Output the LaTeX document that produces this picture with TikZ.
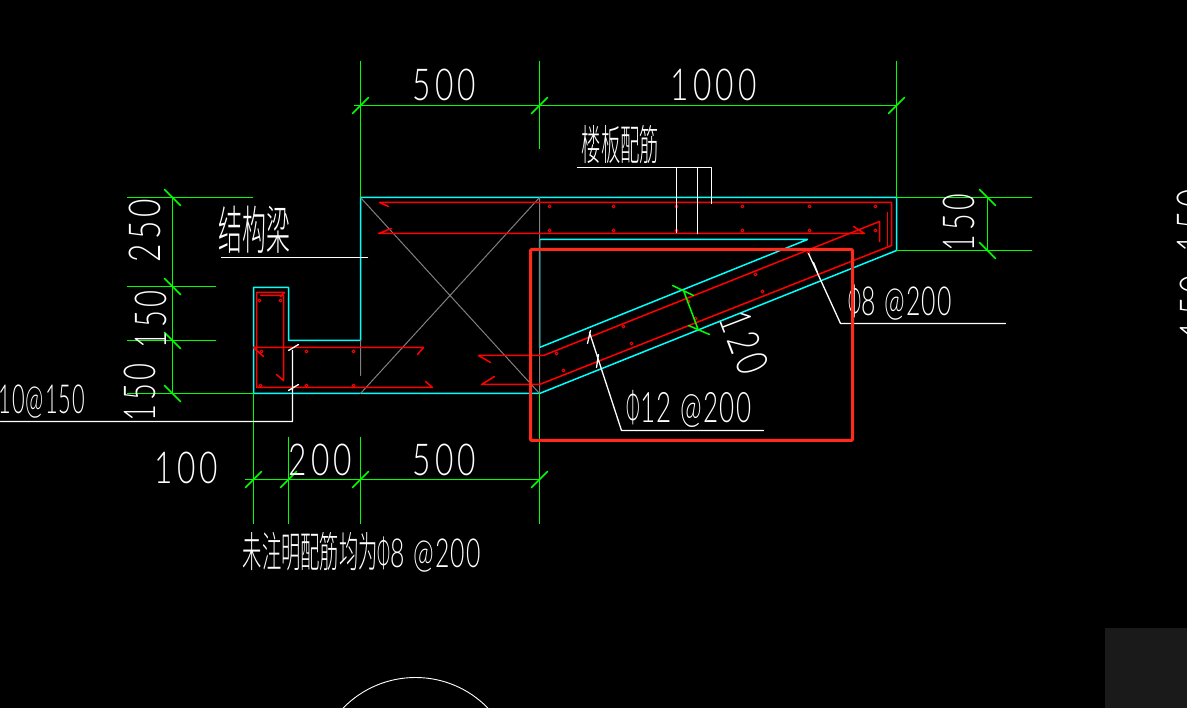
\documentclass[tikz,border=0pt]{standalone}
\usepackage{fontspec}
\newfontfamily\cadfont[LetterSpace=13]{Lato Light}
\newfontfamily\cadtight[LetterSpace=5]{Lato Light}
\newfontfamily\cadcjk{Noto Sans CJK SC Light}
\newcommand{\cadnum}[2][44]{\scalebox{.72}[1]{\fontsize{#1}{#1}\cadfont #2}}
\newcommand{\cadbar}[2][40]{\scalebox{.62}[1]{\fontsize{#1}{#1}\cadtight #2}}
\newcommand{\cadhan}[2][44]{\scalebox{.46}[1]{\fontsize{#1}{#1}\cadcjk #2}}
\newcommand{\cadphi}[1][40]{\scalebox{.4}[1]{\fontsize{#1}{#1}\cadfont Φ}}
\definecolor{cadcyan}{HTML}{00FFFF}
\definecolor{cadgreen}{HTML}{00FF00}
\definecolor{cadred}{HTML}{FF0000}
\definecolor{markred}{HTML}{FF2A1A}
\definecolor{cadgrey}{HTML}{808080}
\definecolor{cornergrey}{HTML}{1A1A1A}
\tikzset{
	outline/.style={cadcyan,line width=1.5pt},
	dimline/.style={cadgreen,line width=1.5pt},
	rebar/.style={cadred,line width=1.5pt},
	leader/.style={white,line width=1.3pt},
	cadlabel/.style={white,inner sep=0pt}
}
\begin{document}
\begin{tikzpicture}[x=1pt,y=-1pt,line join=round,line cap=round]
	\useasboundingbox (0,0) rectangle (1187,708);
	\clip (0,0) rectangle (1187,708);
	\fill[black] (0,0) rectangle (1187,708);
	\fill[cornergrey] (1105,628) rectangle (1187,708);
	\begin{scope}[shift={(.5,.5)}]
	%Section outline
	\draw[outline] (360,197)--(896,197)--(896,250)--(539,393)--(253,393)--(253,287)--(288,287)--(288,340)--(360,340)--cycle;
	\draw[outline] (807,239)--(539,239)--(539,347)--cycle;
	\draw[cadgrey,line width=1pt] (360,197)--(539,393) (360,393)--(539,197)--(539,393) (360,340)--(360,375);
	%Rebars
	\draw[rebar] (388,206)--(379,202)--(891,202)--(891,245)--(539,384)--(481,384)--(494,376);
	\draw[rebar] (391,228)--(378,233)--(864,233)--(853,226);
	\draw[rebar] (490,362)--(478,355)--(543,355)--(879,221)--(879,241);
	\draw[rebar] (887,212)--(887,245);
	\draw[rebar] (263,356)--(253,347)--(423,347)--(417,354);
	\draw[rebar] (425,381)--(432,387)--(256,387)--(256,292)--(284,292)--(280,296);
	\draw[rebar] (260,295)--(283,295)--(283,380)--(276,374);
	\foreach \x in {549,613,676,742,809,875} \draw[cadred,line width=.8pt] (\x,206) circle (1.5) (\x,230) circle (1.5);
	\foreach \x/\y in {623/326,556/353,631/343,563/370,755/274,762/291,808/252,688/301,695/318,259/300,280/300,261/351,306/351,353/351,260/385,306/385,353/385} \draw[cadred,line width=.8pt] (\x,\y) circle (1.5);
	%Dimension lines
	\draw[dimline] (360,61)--(360,197) (539,61)--(539,148) (896,61)--(896,197) (354,105)--(896,105);
	\draw[dimline] (127,197)--(252,197) (127,286)--(215,286) (127,340)--(215,340) (127,393)--(253,393) (172,197)--(172,393);
	\draw[dimline] (896,197)--(1031,197) (896,250)--(1031,250) (987,197)--(987,250);
	\draw[dimline] (253,393)--(253,523) (288,437)--(288,523) (360,437)--(360,523) (539,393)--(539,523) (245,479)--(539,479);
	\foreach \x/\y in {360/105,539/105,896/105,253/479,288/479,360/479,539/479} \draw[dimline] (\x-8,\y+8)--(\x+8,\y-8);
	\foreach \x/\y in {172/197,172/286,172/340,172/393,987/197,987/250} \draw[dimline] (\x-8,\y-8)--(\x+8,\y+8);
	\draw[dimline] (683,290)--(698,330) (672,285)--(693,295) (688,325)--(709,334);
	%Leaders
	\draw[leader] (221,257)--(367,257);
	\draw[leader] (577,167)--(711,167)--(711,203) (676,167)--(676,232) (697,167)--(697,233);
	\draw[leader] (808,253)--(840,323)--(1005,323) (813,262)--(817,272);
	\draw[leader] (589,332)--(621,430)--(763,430) (590,330)--(587,343) (598,354)--(596,367);
	\draw[leader] (292,350)--(292,421)--(0,421) (288,350)--(298,344) (288,390)--(298,384);
	%Texts
	\node[cadlabel] (dimTopA) at (444,84) {\cadnum{500}};
	\node[cadlabel] (dimTopB) at (713,84) {\cadnum{1000}};
	\node[cadlabel] (dimBotA) at (186,467) {\cadnum{100}};
	\node[cadlabel] (dimBotB) at (320,459) {\cadnum{200}};
	\node[cadlabel] (dimBotC) at (444,459) {\cadnum{500}};
	\node[cadlabel,rotate=90] (dimLeftA) at (144,230) {\cadnum{250}};
	\node[cadlabel,rotate=90] (dimLeftB) at (150,319) {\scalebox{.92}[1]{\cadnum{150}}};
	\node[cadlabel,rotate=90] (dimLeftC) at (139,392) {\scalebox{.92}[1]{\cadnum{150}}};
	\node[cadlabel,rotate=90] (dimRight) at (958,222) {\scalebox{.9}[1]{\cadnum{150}}};
	\node[cadlabel,rotate=90] (edgeA) at (1192,220) {\cadnum{150}};
	\node[cadlabel,rotate=90] (edgeB) at (1195,306) {\cadnum{150}};
	\node[cadlabel,rotate=-69] (slabThk) at (744,342) {\cadnum{120}};
	\node[cadlabel,anchor=west] (barTop) at (848,302) {\cadphi\cadbar{8\,\,@200}};
	\node[cadlabel,anchor=west] (barBot) at (626,408) {\cadphi[42]\cadbar[42]{12\,\,@200}};
	\node[cadlabel,anchor=east] (barBeam) at (85,401) {\scalebox{.88}[1]{\cadbar{10@150}}};
	\node[cadlabel] (txtBeam) at (254,229) {\cadhan[52]{结构梁}};
	\node[cadlabel] (txtSlab) at (620,144) {\cadhan[42]{楼板配筋}};
	\node[cadlabel,anchor=west] (txtNote) at (242,552) {\cadhan[42]{未注明配筋均为}\cadphi\cadbar{8\,\,@200}};
	%Marked region and arc
	\draw[markred,line width=3pt,rounded corners=1pt] (530,249) rectangle (852,440);
	\draw[white,line width=.9pt] (415,778) circle (101);
	\end{scope}
\end{tikzpicture}
\end{document}
